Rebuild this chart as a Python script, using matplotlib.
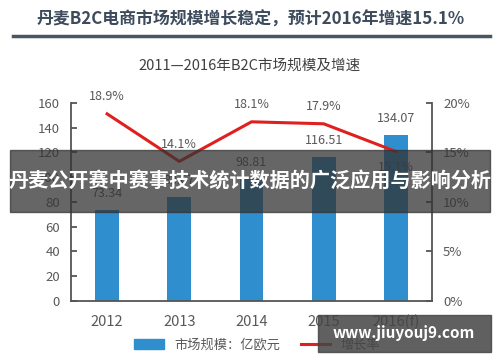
import numpy as np
import matplotlib.pyplot as plt
from matplotlib.patches import Rectangle, Patch
from matplotlib.lines import Line2D

plt.rcParams['font.family'] = ['Noto Sans CJK SC', 'DejaVu Sans']

years = ['2012', '2013', '2014', '2015', '2016(f)']
market = [73.34, 83.67, 98.81, 116.51, 134.07]
market_labels = ['73.34', '83.67', '98.81', '116.51', '134.07']
growth = [18.9, 14.1, 18.1, 17.9, 15.1]
left_ticks = [0, 20, 40, 60, 80, 100, 120, 140, 160]
right_ticks = [0, 5, 10, 15, 20]

bar_color = '#2e8ece'
line_color = '#e0201f'
grey = '#595959'

fig = plt.figure(figsize=(5, 3.62), dpi=100)
ax = fig.add_axes([0.142, 0.1685, 0.722, 0.547])
ax2 = ax.twinx()

x = np.arange(len(years))
ax.bar(x, market, width=0.33, color=bar_color, zorder=2)
for xi, v, lab in zip(x, market, market_labels):
    ax.annotate(lab, (xi, v), xytext=(0, 12), textcoords='offset points',
                ha='center', va='center', fontsize=9, color=grey)

ax2.plot(x, growth, color=line_color, lw=2.2, zorder=3)
for i, (xi, g) in enumerate(zip(x, growth)):
    off = -11.5 if i == len(growth) - 1 else 12.5
    ax2.annotate('%.1f%%' % g, (xi, g), xytext=(0, off), textcoords='offset points',
                 ha='center', va='center', fontsize=9, color=grey)

ax.set_xlim(-0.5, 4.5)
ax.set_ylim(0, 160)
ax2.set_ylim(0, 20)
ax.set_xticks(x)
ax.set_xticklabels(years, fontsize=10.5, color=grey)
ax.set_yticks(left_ticks)
ax.set_yticklabels([str(t) for t in left_ticks], fontsize=9.5, color=grey)
ax2.set_yticks(right_ticks)
ax2.set_yticklabels(['%d%%' % t for t in right_ticks], fontsize=9.5, color=grey)

for a in (ax, ax2):
    a.spines['top'].set_visible(False)
    for s in ('left', 'right', 'bottom'):
        a.spines[s].set_color('#555555')
        a.spines[s].set_linewidth(1.3)
ax.spines['right'].set_visible(False)
ax2.spines['left'].set_visible(False)
ax2.spines['bottom'].set_visible(False)
ax.tick_params(axis='y', direction='in', length=4, width=1.3, color='#555555', pad=8)
ax.tick_params(axis='x', length=0, pad=10)
ax2.tick_params(axis='y', direction='in', length=4, width=1.3, color='#555555', pad=8)

# titles
fig.text(0.502, 1 - 20 / 362, '丹麦B2C电商市场规模增长稳定，预计2016年增速15.1%',
         ha='center', va='center', fontsize=12.2, fontweight='bold', color='#3d4b5c')
fig.add_artist(Line2D([13 / 500, 490 / 500], [1 - 36 / 362] * 2, color='#4a5560', lw=2.5))
fig.text(0.5, 1 - 66 / 362, '2011—2016年B2C市场规模及增速',
         ha='center', va='center', fontsize=10.5, color='#404040')

handles = [Patch(color=bar_color), Line2D([0], [0], color=line_color, lw=2.2)]
fig.legend(handles, ['市场规模：亿欧元', '增长率'], loc='center', bbox_to_anchor=(0.515, 17 / 362),
           ncol=2, frameon=False, fontsize=9.5, handlelength=2.2, handleheight=0.7,
           columnspacing=1.6, labelcolor=grey)

# overlay banner
fig.add_artist(Rectangle((10 / 500, 1 - 212 / 362), 480 / 500, 62 / 362,
                         transform=fig.transFigure, color='#333333', alpha=0.75, zorder=6))
fig.text(0.5, 1 - 181 / 362, '丹麦公开赛中赛事技术统计数据的广泛应用与影响分析',
         ha='center', va='center', fontsize=14.5, fontweight='bold', color='white', zorder=7)

# watermark
fig.add_artist(Rectangle((318 / 500, 10 / 362), 173 / 500, 37 / 362,
                         transform=fig.transFigure, color='#444444', alpha=0.85, zorder=6))
fig.text(404 / 500, 1 - 333 / 362, 'www.jiuyouj9.com', ha='center', va='center',
         fontsize=11, fontweight='bold', color='white', zorder=7)

fig.savefig('out.png', dpi=100)
